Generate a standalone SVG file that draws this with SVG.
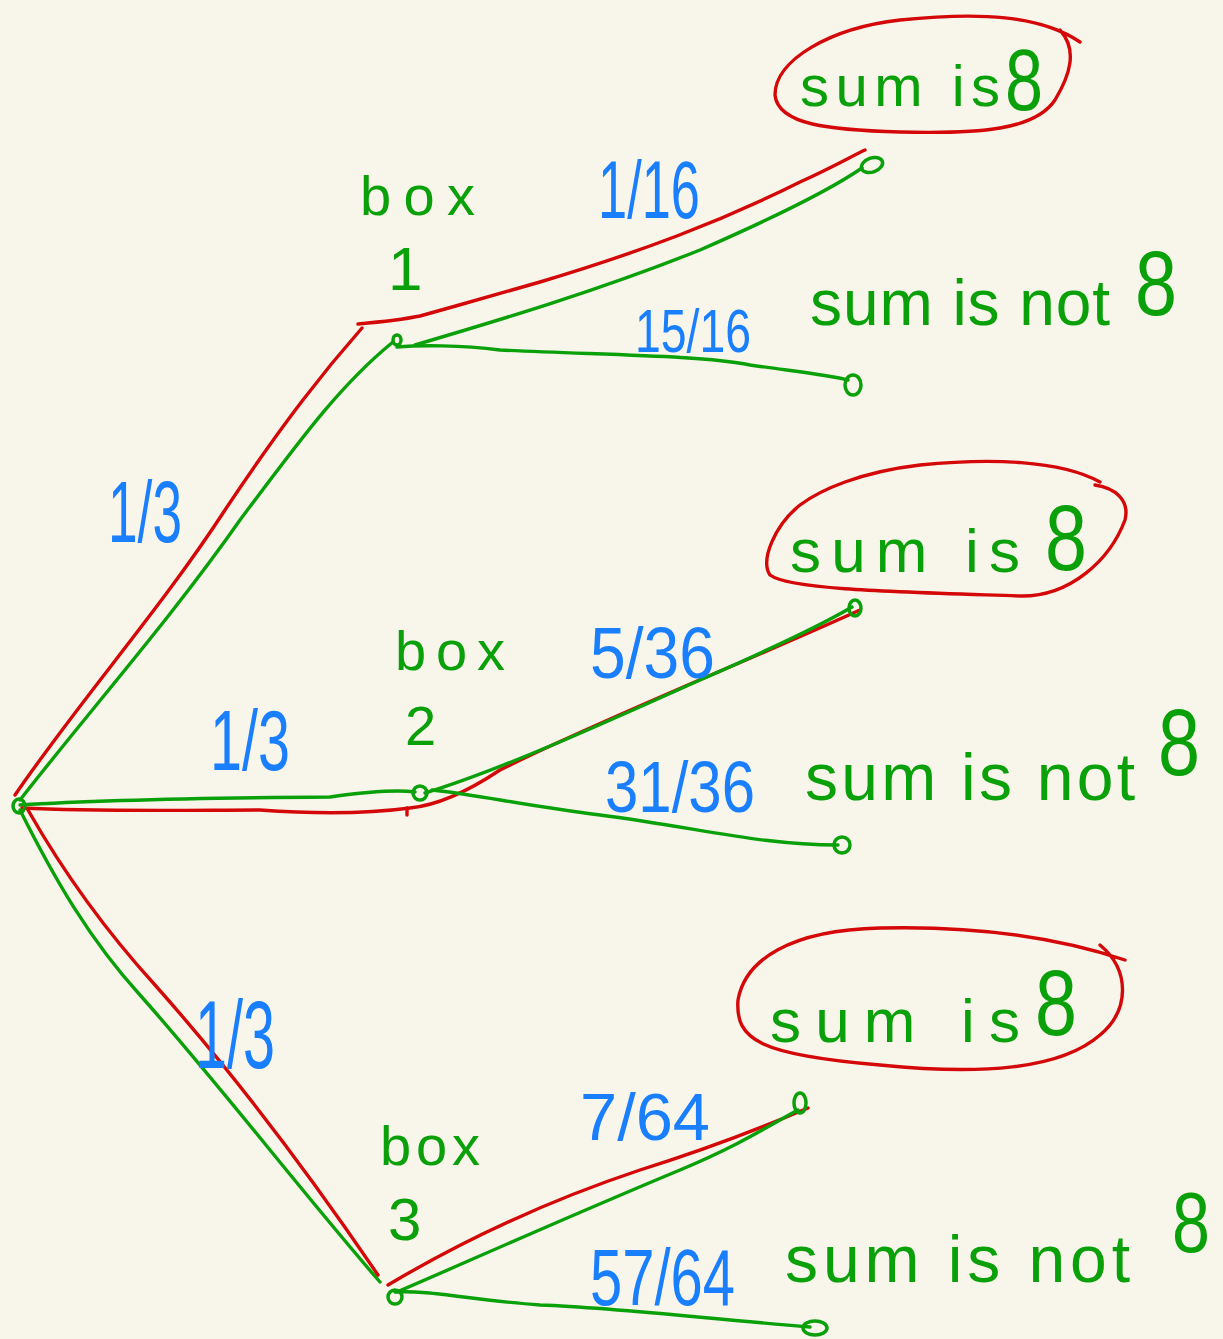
<svg xmlns="http://www.w3.org/2000/svg" width="1223" height="1339" viewBox="0 0 1223 1339">
<style>
.g{fill:none;stroke:#0aa00a;stroke-width:3.4;stroke-linecap:round;stroke-linejoin:round}
.r{fill:none;stroke:#d40808;stroke-width:3.4;stroke-linecap:round;stroke-linejoin:round}
.dot{fill:none;stroke:#0aa00a;stroke-width:3.5}
.gt{fill:#0aa00a;font-family:"Liberation Sans",Arial,sans-serif}
.bt{fill:#1a7fff;font-family:"Liberation Sans",Arial,sans-serif}
</style>
<rect width="1223" height="1339" fill="#f8f6ea"/>
<g id="connectors">
<path class="r" d="M15,795 C80,700 160,610 225,510 C285,420 325,370 362,328"/>
<path class="r" d="M358,324 C380,322 400,320 420,316 C460,305 490,296 540,282 C640,252 720,222 800,182 C835,166 852,156 865,150"/>
<path class="g" d="M20,800 C90,710 170,620 240,520 C300,440 340,385 393,342"/>
<path class="g" d="M415,345 C500,320 600,290 700,250 C780,215 830,190 862,168"/>
<path class="g" d="M397,347 C420,345 460,345 500,350 C600,355 700,355 750,365 C800,372 830,375 848,380"/>
<path class="g" d="M20,805 C100,800 200,798 330,797 C380,790 400,790 415,792"/>
<path class="r" d="M22,808 C100,812 200,810 260,810 C330,815 380,812 410,808 C440,805 470,790 500,770 C600,720 750,660 860,610"/>
<path class="r" d="M407,808 L407,815"/>
<path class="g" d="M425,793 C500,770 600,725 700,680 C780,645 830,620 852,607"/>
<path class="g" d="M432,790 C480,795 520,805 600,815 C700,828 760,845 838,845"/>
<path class="g" d="M20,810 C55,880 90,940 140,995 C220,1085 300,1190 380,1282"/>
<path class="r" d="M28,810 C65,875 105,930 155,985 C235,1075 310,1175 378,1275"/>
<path class="r" d="M388,1285 C430,1260 520,1210 640,1170 C720,1145 780,1120 808,1108"/>
<path class="g" d="M397,1292 C460,1265 560,1220 680,1170 C740,1145 770,1125 798,1110"/>
<path class="g" d="M395,1292 C430,1290 470,1300 540,1305 C620,1308 700,1318 810,1327"/>
</g>
<g id="root"><ellipse class="dot" cx="19" cy="806" rx="6" ry="7"/></g>
<g id="box1">
<ellipse class="dot" cx="397" cy="340" rx="4" ry="5"/>
<text class="gt" x="360" y="215" font-size="56" textLength="115" lengthAdjust="spacing">box</text>
<text class="gt" x="388" y="290" font-size="62">1</text>
</g>
<g id="box2">
<ellipse class="dot" cx="420" cy="793" rx="7" ry="7"/>
<text class="gt" x="395" y="670" font-size="56" textLength="110" lengthAdjust="spacing">box</text>
<text class="gt" x="405" y="745" font-size="56">2</text>
</g>
<g id="box3">
<ellipse class="dot" cx="395" cy="1297" rx="7" ry="7"/>
<text class="gt" x="380" y="1165" font-size="56" textLength="100" lengthAdjust="spacing">box</text>
<text class="gt" x="388" y="1240" font-size="60">3</text>
</g>
<g id="leaf1-yes">
<ellipse class="dot" cx="872" cy="165" rx="11" ry="7" transform="rotate(-20 872 165)"/>
<path class="r" d="M1080,42 C1040,15 980,12 900,20 C830,28 775,60 775,95 C778,125 830,130 900,132 C980,134 1035,130 1055,100 C1070,75 1078,50 1060,30"/>
<text class="gt" x="800" y="106" font-size="58" textLength="200" lengthAdjust="spacing">sum is</text>
<text class="gt" x="1005" y="110" font-size="88" textLength="38" lengthAdjust="spacingAndGlyphs">8</text>
</g>
<g id="leaf1-no">
<ellipse class="dot" cx="853" cy="385" rx="8" ry="10"/>
<text class="gt" x="810" y="325" font-size="64" textLength="300" lengthAdjust="spacing">sum is not</text>
<text class="gt" x="1135" y="315" font-size="90" textLength="42" lengthAdjust="spacingAndGlyphs">8</text>
</g>
<g id="leaf2-yes">
<ellipse class="dot" cx="855" cy="608" rx="6" ry="8"/>
<path class="r" d="M1100,482 C1060,460 990,458 920,465 C860,472 820,490 800,505 C775,525 760,560 770,575 C790,590 900,592 1020,596 C1070,597 1110,560 1125,520 C1130,500 1115,488 1095,485"/>
<text class="gt" x="790" y="572" font-size="62" textLength="230" lengthAdjust="spacing">sum is</text>
<text class="gt" x="1045" y="570" font-size="92" textLength="42" lengthAdjust="spacingAndGlyphs">8</text>
</g>
<g id="leaf2-no">
<ellipse class="dot" cx="842" cy="845" rx="8" ry="8"/>
<text class="gt" x="805" y="800" font-size="66" textLength="330" lengthAdjust="spacing">sum is not</text>
<text class="gt" x="1158" y="775" font-size="95" textLength="42" lengthAdjust="spacingAndGlyphs">8</text>
</g>
<g id="leaf3-yes">
<ellipse class="dot" cx="800" cy="1103" rx="6" ry="10"/>
<path class="r" d="M1125,960 C1080,945 1000,925 880,928 C790,930 745,960 738,1000 C735,1040 760,1055 880,1065 C980,1075 1060,1070 1100,1035 C1130,1010 1130,970 1100,945"/>
<text class="gt" x="770" y="1042" font-size="62" textLength="250" lengthAdjust="spacing">sum is</text>
<text class="gt" x="1035" y="1035" font-size="92" textLength="42" lengthAdjust="spacingAndGlyphs">8</text>
</g>
<g id="leaf3-no">
<ellipse class="dot" cx="815" cy="1328" rx="12" ry="7"/>
<text class="gt" x="785" y="1282" font-size="66" textLength="345" lengthAdjust="spacing">sum is not</text>
<text class="gt" x="1172" y="1252" font-size="86" textLength="38" lengthAdjust="spacingAndGlyphs">8</text>
</g>
<g id="labels">
<text class="bt" x="598" y="218" font-size="82" textLength="102" lengthAdjust="spacingAndGlyphs">1/16</text>
<text class="bt" x="635" y="352" font-size="62" textLength="116" lengthAdjust="spacingAndGlyphs">15/16</text>
<text class="bt" x="108" y="542" font-size="88" textLength="74" lengthAdjust="spacingAndGlyphs">1/3</text>
<text class="bt" x="590" y="678" font-size="72" textLength="125" lengthAdjust="spacingAndGlyphs">5/36</text>
<text class="bt" x="210" y="770" font-size="86" textLength="80" lengthAdjust="spacingAndGlyphs">1/3</text>
<text class="bt" x="605" y="812" font-size="72" textLength="150" lengthAdjust="spacingAndGlyphs">31/36</text>
<text class="bt" x="195" y="1068" font-size="96" textLength="80" lengthAdjust="spacingAndGlyphs">1/3</text>
<text class="bt" x="580" y="1140" font-size="66" textLength="130" lengthAdjust="spacingAndGlyphs">7/64</text>
<text class="bt" x="590" y="1305" font-size="80" textLength="145" lengthAdjust="spacingAndGlyphs">57/64</text>
</g>
</svg>
